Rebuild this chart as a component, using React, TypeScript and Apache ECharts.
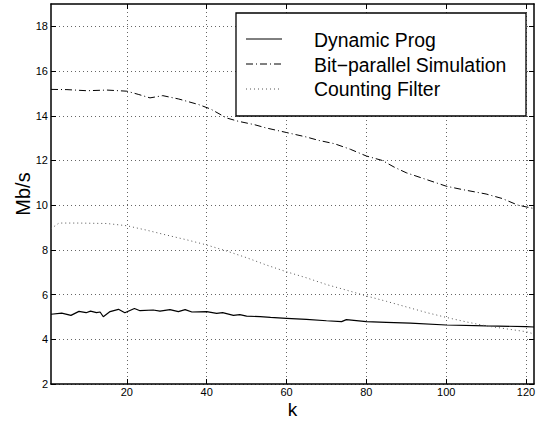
import React, { useEffect, useRef } from "react";
import * as echarts from "echarts";

const xTicks = [20, 40, 60, 80, 100, 120];
const yTicks = [2, 4, 6, 8, 10, 12, 14, 16, 18];

const seriesNames = ["Dynamic Prog", "Bit\u2212parallel Simulation", "Counting Filter"];

const dpK = [1, 3.7, 6, 8, 9.8, 10.9, 12.4, 13.3, 14.1, 15.8, 17.9, 19.5, 21.9, 23.3, 26.6, 28.3, 30.8, 32.9, 34.6, 36.3, 40, 42.5, 44, 46.7, 48.3, 50, 53.4, 56, 60, 65, 70, 73.8, 75, 80, 85, 91, 100, 110, 120, 122];
const dpVal = [5.12, 5.17, 5.07, 5.25, 5.19, 5.26, 5.19, 5.22, 5.01, 5.24, 5.34, 5.19, 5.38, 5.28, 5.31, 5.26, 5.33, 5.24, 5.33, 5.22, 5.24, 5.16, 5.19, 5.07, 5.1, 5.04, 5.01, 4.98, 4.94, 4.89, 4.83, 4.79, 4.88, 4.79, 4.76, 4.72, 4.64, 4.6, 4.57, 4.55];

const bpK = [1, 5, 10, 15, 20, 23, 25.8, 29, 33, 38, 41, 45, 48, 52, 55, 60, 65, 68, 72, 76, 80, 84, 87, 90, 95, 100, 104, 110, 114, 118, 122];
const bpVal = [15.18, 15.17, 15.12, 15.15, 15.1, 14.95, 14.8, 14.9, 14.75, 14.5, 14.3, 13.9, 13.75, 13.6, 13.45, 13.25, 13.05, 12.9, 12.75, 12.5, 12.2, 12.0, 11.7, 11.45, 11.15, 10.85, 10.7, 10.5, 10.3, 10.0, 9.85];

const cfK = [1, 3, 8, 15, 18, 20, 22, 25, 30, 35, 40, 45, 50, 55, 60, 65, 70, 75, 80, 85, 90, 95, 100, 105, 110, 115, 120, 122];
const cfVal = [8.95, 9.2, 9.2, 9.18, 9.12, 9.08, 9.0, 8.88, 8.66, 8.45, 8.22, 7.95, 7.65, 7.32, 7.02, 6.75, 6.45, 6.2, 5.94, 5.7, 5.45, 5.2, 4.98, 4.78, 4.6, 4.47, 4.34, 4.24];

const FONT = "'Liberation Sans', Arial, Helvetica, sans-serif";

const pairs = (xs: number[], ys: number[]) => xs.map((x, i) => [x, ys[i]]);

const styles = [
  { color: "#000", width: 1.2, type: "solid" as any },
  { color: "#000", width: 1, type: [7, 3, 1, 3] as any },
  { color: "#555", width: 1, type: [1, 3] as any },
];

export default function App() {
  const ref = useRef<HTMLDivElement>(null);
  useEffect(() => {
    if (!ref.current) return;
    const chart = echarts.init(ref.current, null, { renderer: "svg" });
    const gridLine = { show: true, lineStyle: { color: "#666", width: 1, type: [1, 3] as any } };
    const axisLine = { show: true, lineStyle: { color: "#000", width: 1.5 } };
    const tick = (vals: number[]) => ({ show: true, inside: true, length: 5, customValues: vals, lineStyle: { color: "#000", width: 1 } });
    const legendRows = seriesNames.map((name, i) => {
      const yLine = [39, 64, 89][i];
      return [
        {
          type: "line",
          shape: { x1: 246, y1: yLine, x2: 282, y2: yLine },
          style: { stroke: styles[i].color, lineWidth: 1, lineDash: styles[i].type === "solid" ? null : styles[i].type },
          z: 101,
        },
        {
          type: "text",
          x: 314,
          y: [40, 64.5, 89][i],
          style: { text: name, font: `19.4px ${FONT}`, fill: "#000", textVerticalAlign: "middle", verticalAlign: "middle" },
          z: 101,
        },
      ];
    }).flat();
    chart.setOption({
      animation: false,
      backgroundColor: "#fff",
      grid: { left: 51, top: 4, width: 483, height: 380, show: false, containLabel: false, outerBoundsMode: "none" },
      xAxis: [
        {
          type: "value", min: 1, max: 122, position: "bottom",
          name: "k", nameLocation: "middle", nameGap: 19, nameMoveOverlap: false,
          nameTextStyle: { fontSize: 19, lineHeight: 12, fontFamily: FONT, color: "#000", verticalAlign: "top" },
          axisLine, axisTick: tick(xTicks),
          axisLabel: { show: true, customValues: xTicks, fontSize: 11, lineHeight: 10, fontFamily: FONT, color: "#000", margin: 3 },
          splitLine: gridLine,
        },
        {
          type: "value", min: 1, max: 122, position: "top",
          axisLine, axisTick: tick(xTicks), axisLabel: { show: false, customValues: xTicks }, splitLine: { show: false },
        },
      ],
      yAxis: [
        {
          type: "value", min: 2, max: 19, position: "left",
          name: "Mb/s", nameLocation: "middle", nameGap: 18, nameMoveOverlap: false,
          nameTextStyle: { fontSize: 20, fontFamily: FONT, color: "#000" },
          axisLine, axisTick: tick(yTicks),
          axisLabel: { show: true, customValues: yTicks, fontSize: 11, fontFamily: FONT, color: "#000", margin: 3 },
          splitLine: gridLine,
        },
        {
          type: "value", min: 2, max: 19, position: "right",
          axisLine, axisTick: tick(yTicks), axisLabel: { show: false, customValues: yTicks }, splitLine: { show: false },
        },
      ],
      series: [
        { name: seriesNames[0], type: "line", data: pairs(dpK, dpVal) },
        { name: seriesNames[1], type: "line", data: pairs(bpK, bpVal) },
        { name: seriesNames[2], type: "line", data: pairs(cfK, cfVal) },
      ].map((s, i) => ({
        ...s, xAxisIndex: 0, yAxisIndex: 0, showSymbol: false, symbol: "none",
        lineStyle: styles[i], z: 3, silent: true,
      })),
      graphic: [
        {
          type: "rect", shape: { x: 236, y: 13, width: 290, height: 103 },
          style: { fill: "#fff", stroke: "#000", lineWidth: 1.3 }, z: 100,
        },
        ...legendRows,
      ],
    });
    return () => chart.dispose();
  }, []);
  return <div ref={ref} style={{ position: "fixed", left: 0, top: 0, width: 538, height: 421 }} />;
}
